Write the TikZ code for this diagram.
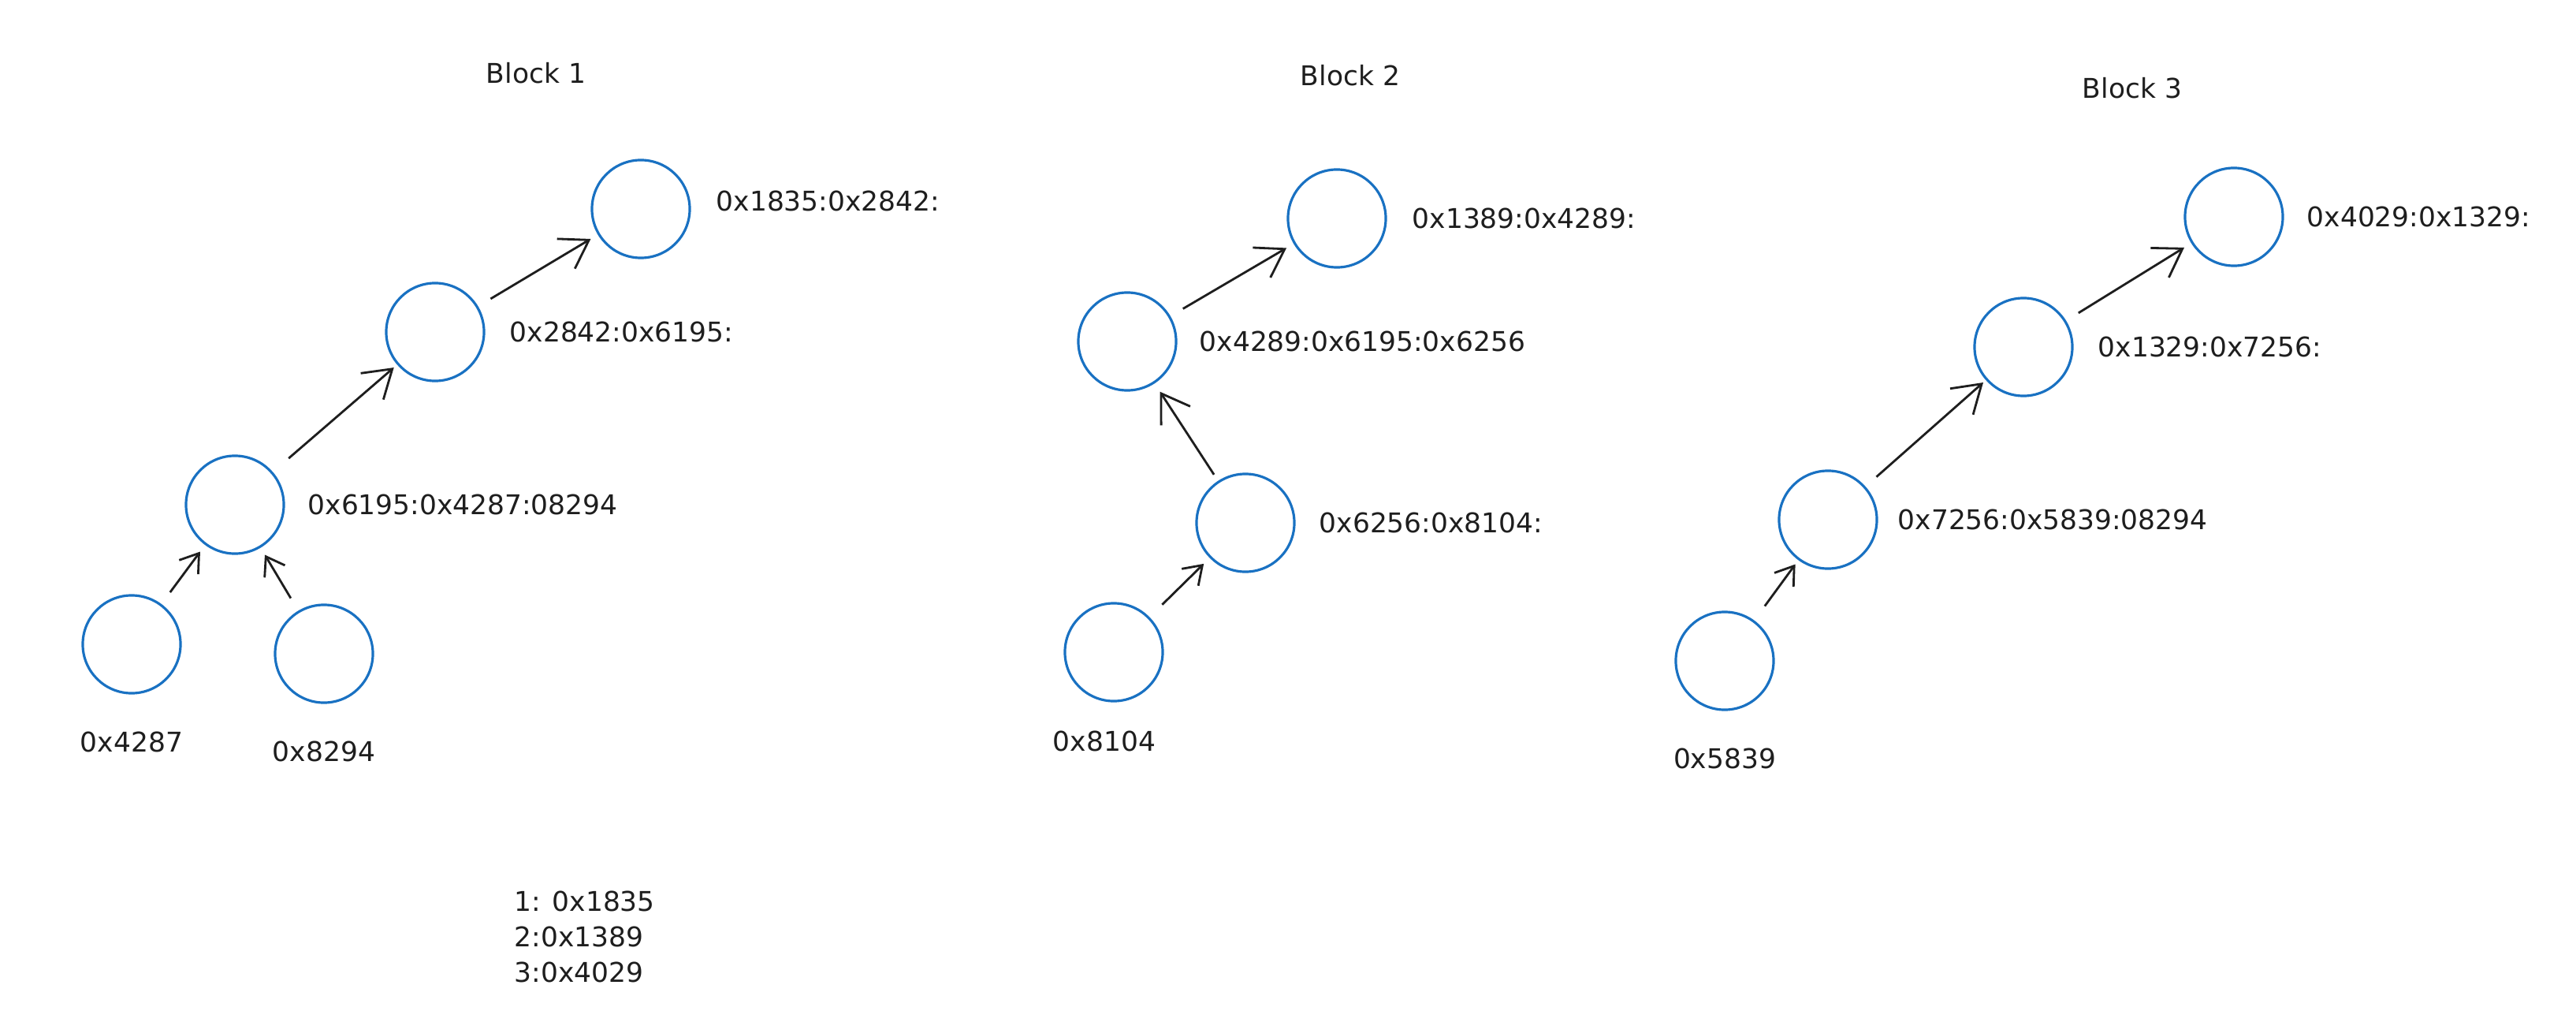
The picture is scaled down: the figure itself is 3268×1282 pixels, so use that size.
\documentclass[tikz,border=0pt]{standalone}
\usepackage{fontspec}
\setmainfont{DejaVu Sans}
\usepackage{xcolor}
\usepackage{tikz}
\usetikzlibrary{arrows.meta,positioning}
\definecolor{nodeblue}{HTML}{1971C2}
\definecolor{inkblack}{HTML}{1E1E1E}

\begin{document}
\begin{tikzpicture}[x=0.01cm, y=-0.01cm,
  font=\fontsize{9.8}{12.8}\selectfont,
  hashnode/.style={circle, draw=nodeblue, line width=0.9pt, minimum size=1.24cm,
    inner sep=0pt, outer sep=0pt},
  hashlabel/.style={inner sep=0pt, text=inkblack},
  link/.style={-{Straight Barb[length=3.4mm, width=4.4mm]}, draw=inkblack,
    line width=0.8pt, shorten <=2mm, shorten >=1.2mm},
  leaflink/.style={link, -{Straight Barb[length=2.2mm, width=3mm]}}]
  \useasboundingbox (0,0) rectangle (3268,1282);
  % block titles
  \node[hashlabel] (title1) at (680,93) {Block 1};
  \node[hashlabel] (title2) at (1713,96) {Block 2};
  \node[hashlabel] (title3) at (2705,112) {Block 3};
  % block 1
  \node[hashnode] (n1835) at (813,265) {};
  \node[hashnode] (n2842) at (552,421) {};
  \node[hashnode] (n6195) at (298,640) {};
  \node[hashnode] (n4287) at (167,817) {};
  \node[hashnode] (n8294) at (411,829) {};
  \node[hashlabel, right=3.3mm of n1835, yshift=1mm] (t1835) {0x1835:0x2842:};
  \node[hashlabel, right=3.2mm of n2842] (t2842) {0x2842:0x6195:};
  \node[hashlabel, right=3mm of n6195] (t6195) {0x6195:0x4287:08294};
  \node[hashlabel, below=4.8mm of n4287] (t4287) {0x4287};
  \node[hashlabel, below=4.8mm of n8294] (t8294) {0x8294};
  \draw[leaflink] (n4287) -- (n6195);
  \draw[leaflink] (n8294) -- (n6195);
  \draw[link, shorten <=2.8mm, shorten >=0.7mm] (n6195) -- (n2842);
  \draw[link] (n2842) -- (n1835);
  % block 2
  \node[hashnode] (n1389) at (1696,277) {};
  \node[hashnode] (n4289) at (1430,433) {};
  \node[hashnode] (n6256) at (1580,663) {};
  \node[hashnode] (n8104) at (1413,827) {};
  \node[hashlabel, right=3.3mm of n1389] (t1389) {0x1389:0x4289:};
  \node[hashlabel, right=2.9mm of n4289] (t4289) {0x4289:0x6195:0x6256};
  \node[hashlabel, right=3.1mm of n6256] (t6256) {0x6256:0x8104:};
  \node[hashlabel, below=3.7mm of n8104, xshift=-1.2mm] (t8104) {0x8104};
  \draw[leaflink, shorten <=2.4mm] (n8104) -- (n6256);
  \draw[link, shorten <=1.1mm, shorten >=1.4mm] (n6256) -- (n4289);
  \draw[link] (n4289) -- (n1389);
  % block 3
  \node[hashnode] (n4029) at (2834,275) {};
  \node[hashnode] (n1329) at (2567,440) {};
  \node[hashnode] (n7256) at (2319,659) {};
  \node[hashnode] (n5839) at (2188,838) {};
  \node[hashlabel, right=3mm of n4029] (t4029) {0x4029:0x1329:};
  \node[hashlabel, right=3.2mm of n1329] (t1329) {0x1329:0x7256:};
  \node[hashlabel, right=2.6mm of n7256] (t7256) {0x7256:0x5839:08294};
  \node[hashlabel, below=4.8mm of n5839] (t5839) {0x5839};
  \draw[leaflink, shorten <=2.4mm, shorten >=0.8mm] (n5839) -- (n7256);
  \draw[link, shorten >=0.6mm] (n7256) -- (n1329);
  \draw[link] (n1329) -- (n4029);
  % chain tips
  \node[hashlabel, align=left, anchor=west] (roots) at (652,1188)
    {1: 0x1835\\2:0x1389\\3:0x4029};
\end{tikzpicture}
\end{document}
